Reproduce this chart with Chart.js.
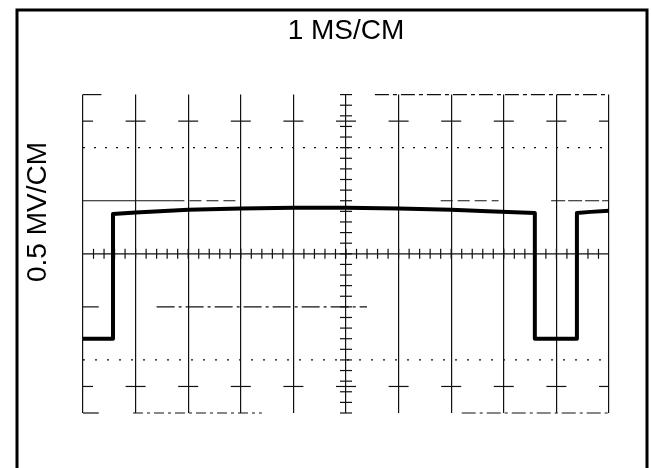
<!DOCTYPE html>
<html>
<head>
<meta charset="utf-8">
<script src="https://cdn.jsdelivr.net/npm/chart.js@4/dist/chart.umd.min.js"></script>
<style>
  html, body { margin: 0; padding: 0; background: #fff; }
  canvas { display: block; }
</style>
</head>
<body>
<canvas id="scope" width="651" height="468"></canvas>
<script>
// Scope trace: x in ms (1 ms per div), y in divisions
const traceTimeMs = [0, 0.57, 0.57, 1, 2, 3, 4, 5, 6, 7, 7.7, 8.59, 8.59, 9.39, 9.39, 9.65, 10];
const traceLevel  = [-1.6, -1.6, 0.75, 0.78, 0.83, 0.855, 0.87, 0.87, 0.855, 0.83, 0.8, 0.77, -1.6, -1.6, 0.77, 0.79, 0.81];

const timeBase = '1 MS/CM';
const voltScale = '0.5 MV/CM';

const FONT = '"Liberation Sans", Arial, sans-serif';
const INK = '#111';

// Graticule: dashed / dotted lines, crosses and the minor ticks on the centre axes
const graticule = {
    id: 'graticule',
    beforeDatasetsDraw(chart) {
        const { ctx, chartArea: a, scales: { x, y } } = chart;
        ctx.save();
        ctx.strokeStyle = INK;
        ctx.lineWidth = 1.2;

        const hline = (v, x0, x1, dash) => {
            ctx.setLineDash(dash);
            ctx.beginPath();
            ctx.moveTo(x.getPixelForValue(x0), y.getPixelForValue(v));
            ctx.lineTo(x.getPixelForValue(x1), y.getPixelForValue(v));
            ctx.stroke();
        };

        // edges and division lines, patchy like the photo
        hline(3, 0, 0.35, []);
        hline(3, 5.55, 10, [14, 4, 4, 4]);
        hline(-3, 0, 0.3, []);
        hline(-3, 0.95, 3.4, [10, 4, 3, 4]);
        hline(-3, 7.2, 10, [14, 4, 3, 4]);
        hline(1, 0, 1.7, []);
        hline(1, 1.7, 3, [12, 5]);
        hline(1, 6.8, 7.9, [12, 5]);
        hline(1, 8.9, 10, [14, 3]);
        hline(-1, 0, 0.3, []);
        hline(-1, 1.4, 5.4, [18, 4, 3, 4]);
        hline(2, 0, 10, [2, 9]);
        hline(-2, 0, 10, [2, 10]);
        ctx.setLineDash([]);
        hline(0, 0, 10, []);

        // crosses half a division in from top and bottom
        [2.5, -2.5].forEach(v => {
            const py = y.getPixelForValue(v);
            for (let i = 0; i <= 10; i++) {
                const px = x.getPixelForValue(i);
                ctx.beginPath();
                ctx.moveTo(Math.max(a.left, px - 10), py);
                ctx.lineTo(Math.min(a.right, px + 10), py);
                ctx.stroke();
            }
        });

        // minor ticks, 5 per division, on the centre axes
        const cy = y.getPixelForValue(0);
        for (let i = 1; i < 50; i++) {
            const px = x.getPixelForValue(i / 5);
            ctx.beginPath();
            ctx.moveTo(px, cy - 5);
            ctx.lineTo(px, cy + 5);
            ctx.stroke();
        }
        const cx = x.getPixelForValue(5);
        for (let i = -15; i <= 15; i++) {
            const py = y.getPixelForValue(i / 5);
            ctx.beginPath();
            ctx.moveTo(cx - 6, py);
            ctx.lineTo(cx + 6, py);
            ctx.stroke();
        }
        ctx.restore();
    }
};

// Outer frame of the figure and the rotated vertical scale label
const frame = {
    id: 'frame',
    afterDraw(chart) {
        const { ctx } = chart;
        ctx.save();
        ctx.strokeStyle = '#000';
        ctx.lineWidth = 3;
        ctx.beginPath();
        ctx.moveTo(17, 468);
        ctx.lineTo(17, 10);
        ctx.lineTo(647, 10);
        ctx.lineTo(647, 468);
        ctx.stroke();

        ctx.translate(38, 212);
        ctx.rotate(-Math.PI / 2);
        ctx.fillStyle = '#000';
        ctx.font = '28px ' + FONT;
        ctx.textAlign = 'center';
        ctx.textBaseline = 'middle';
        ctx.fillText(voltScale, 0, 0);
        ctx.restore();
    }
};

const ctx = document.getElementById('scope').getContext('2d');
new Chart(ctx, {
    type: 'line',
    data: {
        datasets: [{
            label: 'trace',
            data: traceTimeMs.map((t, i) => ({ x: t, y: traceLevel[i] })),
            borderColor: '#000',
            borderWidth: 4,
            borderJoinStyle: 'round',
            pointRadius: 0,
            tension: 0,
            fill: false,
            clip: 4
        }]
    },
    options: {
        responsive: false,
        animation: false,
        layout: {
            padding: { left: 83, right: 42, top: 12, bottom: 55 }
        },
        plugins: {
            legend: { display: false },
            tooltip: { enabled: false },
            title: {
                display: true,
                text: timeBase,
                fullSize: false,
                color: '#000',
                font: { family: FONT, size: 28, weight: 'normal' },
                padding: { top: 2, bottom: 47 }
            }
        },
        scales: {
            x: {
                type: 'linear',
                min: 0,
                max: 10,
                ticks: { display: false, stepSize: 1 },
                grid: { color: INK, lineWidth: 1.2, drawTicks: false },
                border: { display: false }
            },
            y: {
                min: -3,
                max: 3,
                display: false
            }
        }
    },
    plugins: [graticule, frame]
});
</script>
</body>
</html>
